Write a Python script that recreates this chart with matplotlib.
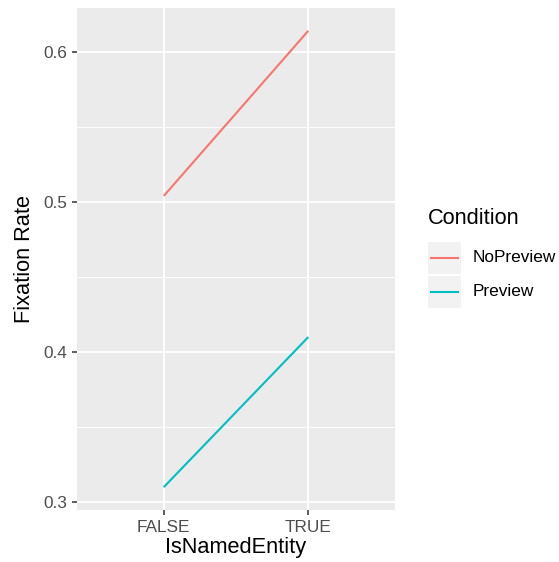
import matplotlib
matplotlib.use("Agg")
import matplotlib.pyplot as plt
from matplotlib.lines import Line2D
from matplotlib.patches import Rectangle

plt.rcParams['font.family'] = ['Liberation Sans', 'DejaVu Sans']

categories = ["FALSE", "TRUE"]
conditions = ["NoPreview", "Preview"]
no_preview = [0.504, 0.614]
preview = [0.310, 0.410]
colors = ["#F8766D", "#00BFC4"]
yticks = [0.3, 0.4, 0.5, 0.6]

W, H = 559, 562
fig = plt.figure(figsize=(W / 100, H / 100), dpi=100)
left, right, top, bottom = 77, 395, 8, 510
ax = fig.add_axes([left / W, 1 - bottom / H, (right - left) / W, (bottom - top) / H])
ax.set_facecolor("#EBEBEB")

x = list(range(1, len(categories) + 1))
series = [no_preview, preview]
for vals, c in zip(series, colors):
    ax.plot(x, vals, color=c, lw=1.5, solid_capstyle="butt", zorder=3)

allv = no_preview + preview
lo, hi = min(allv), max(allv)
span = hi - lo
ax.set_ylim(lo - 0.05 * span, hi + 0.05 * span)
ax.set_xlim(1 - 0.6, len(categories) + 0.6)

ax.set_yticks(yticks)
ax.set_yticklabels([f"{v:.1f}" for v in yticks])
ax.set_yticks([0.35, 0.45, 0.55], minor=True)
ax.set_xticks(x)
ax.set_xticklabels(categories)
ax.tick_params(axis="y", which="minor", length=0)

ax.grid(True, which="major", color="white", lw=1.3, zorder=1)
ax.grid(True, which="minor", axis="y", color="white", lw=0.65, zorder=1)
ax.set_axisbelow(True)
for s in ax.spines.values():
    s.set_visible(False)
ax.tick_params(axis="both", which="major", length=3.6, width=1.1, color="#333333",
               labelcolor="#4D4D4D", labelsize=12.4, pad=3.3)

fig.text(24.5 / W, 1 - 259 / H, "Fixation Rate", rotation=90, ha="center", va="center",
         fontsize=15.7, color="black")
fig.text((left + right) / 2 / W, 1 - 548 / H, "IsNamedEntity", ha="center", va="center",
         fontsize=15.7, color="black")

# legend
fig.text(428 / W, 1 - 219 / H, "Condition", ha="left", va="center", fontsize=15.7, color="black")
key_tops = [242, 276]
for i, (lab, c) in enumerate(zip(conditions, colors)):
    kt = key_tops[i]
    fig.add_artist(Rectangle((428 / W, 1 - (kt + 32) / H), 33 / W, 32 / H,
                             transform=fig.transFigure, facecolor="#F2F2F2", edgecolor="none"))
    yc = 1 - (kt + 16) / H
    fig.add_artist(Line2D([431 / W, 458 / W], [yc, yc], transform=fig.transFigure,
                          color=c, lw=1.5))
    fig.text(473 / W, yc, lab, ha="left", va="center", fontsize=12.4, color="black")

fig.savefig("out.png", dpi=100)
